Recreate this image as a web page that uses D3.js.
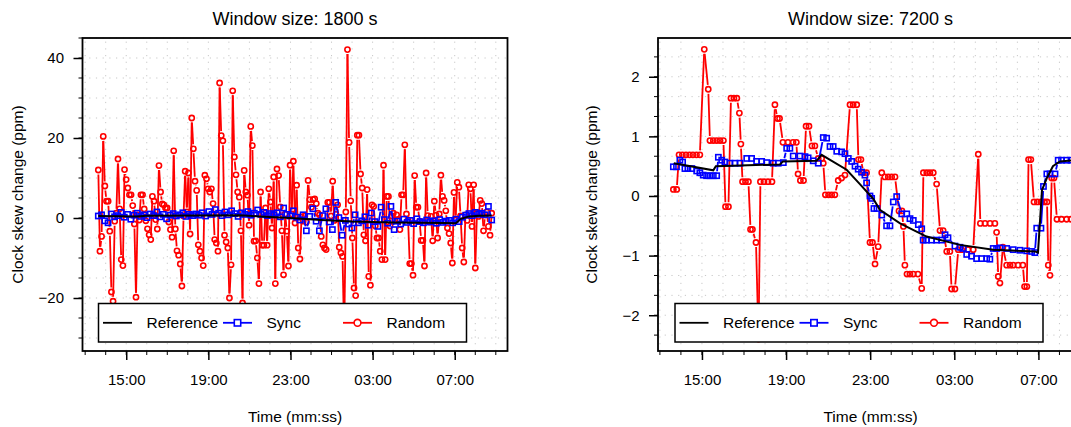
<!DOCTYPE html>
<html>
<head>
<meta charset="utf-8">
<script src="https://cdn.jsdelivr.net/npm/d3@7"></script>
<style>
  body { margin: 0; background: #fff; }
  svg { display: block; font-family: "Liberation Sans", Arial, sans-serif; }
</style>
</head>
<body>
<div id="chart"></div>
<script>
// ---- shared labels ----
const xTickHours = [15, 19, 23, 27, 31];
const xTickLabels = ["15:00", "19:00", "23:00", "03:00", "07:00"];
const legendLabels = ["Reference", "Sync", "Random"];
const titles = ["Window size: 1800 s", "Window size: 7200 s"];
const xTitle = "Time (mm:ss)";
const yTitle = "Clock skew change (ppm)";

// ---- panel 1 (1800 s) : time in hours since midnight of day 1 ----
const leftStart = 13.64, leftEnd = 32.8;
const leftYTicks = [-20, 0, 20, 40];
const leftRefTimes = [13.64, 15.5, 16.0, 18.8, 20.5, 21.5, 23.0, 24.5, 26.0, 28.0, 30.5, 31.05, 31.3, 31.7, 32.2, 32.8];
const leftRefValues = [0.5, 0.4, 0.55, 0.6, 0.7, 0.4, 0.0, -0.5, -0.9, -1.15, -1.25, -1.3, -0.2, 0.4, 0.55, 0.6];
const leftSyncValues = [
  0.5, 0.8, -0.7, -1.2, 1.0, 0.3, 0.6, 1.4, 0.2, 0.9, -0.3, 0.7, 1.2, 0.4, 0.8, 0.1, 1.0, 0.6, 1.5, 0.3, 0.9, -0.2, 0.7, 1.1, 0.5, 0.8, 1.3, 0.4, 0.9, 0.6,
  1.0, 0.7, 1.3, 0.5, 1.6, 0.9, 2.1, 1.2, 0.6, 1.5, 0.8, 1.8, 1.1, 0.4, 1.3, 0.9, 1.6, 0.7, 1.2, 2.0, 0.9, 1.4, 0.6, 1.1, 0.8, 1.3, 0.3, 2.5, 0.9, 0.5,
  1.8, 0.2, -0.5, 0.8, -3.2, 0.4, 2.3, -0.8, -3.2, 0.6, 2.3, -1.0, -2.9, 3.9, 0.1, -4.3, -0.6, -1.5, -2.5, 0.8, -1.2, -0.7, 0.3, -1.8, 1.25, -0.9, -2.1, 2.7, -0.4, -1.3,
  2.9, -2.9, -0.8, -1.5, -0.3, -1.1, -0.6, -1.4, -0.2, -0.9, -1.2, -0.5, -1.0, -0.7, -1.3, -0.4, -1.1, -0.8, -0.6, -1.2, -0.3, -0.9, 0.2, 0.7, 1.1, 0.6, 1.4, 0.9, 1.2, 0.8, 2.9, -0.5
];
const leftRandomValues = [
  12, -8.3, -4.6, 20.4, 8, 4.2, 4.2, -3.3, -18.5, -20.8, -0.8, 1.2, 14.75, 2.3, -10.4, -11.9, 12.1, 9.6, 7.5, 5.8,
  5.8, 3.1, -1.5, -19.8, 0.8, -0.5, 5.8, 5.8, 2.25, -0.7, -2.7, -4.2, -5.4, 5.4, 4.2, -0.4, -2.75, 13.1, 6.5, 3.5,
  3.3, 2.5, 2.5, -1, -2.9, -4.8, 16.8, -2.75, -8.2, -9.3, -11.5, -17, 0.5, 11.7, 1.5,
  11.25, -4, 25, 17.3, 9.2, 6.9, -6.7, -8.3, -10, -11.9, 10.7, 9.8, 7.3, 6.5, 7.3, 3.6, -5.4, -6.25, -8.3, 33.75,
  20.6, 19.3, -4.3, -6, -7.5, -20, -11.7, 31.8, 15.25, 10.8, 6.5, 5.2, -3.2, -21.25, 11.9, 6.5, 5.7, -1.8, 22.9, 18.1,
  -5.8, -5.7, -10, -16.4, 6.5, -6.8, -6.8, 2.5, -6.8, 7.3, 4, -2.5, 10.25, -16.4, 12.25, 10.6, 2.75, -3.2, -14.2, 1,
  -3.3, -12, 13.2, 1, 14.2, -1.25, 8.2, -7.5, -10.25, 0.3, -0.8, 0.5, -1, 9.4, 4.6, 2.7, 4.6, 4.8, 3.6, 1.2,
  0.8, -4.6, -6.7, -7.5, -7.9, 3.9, 3.9, 0.5, 9.2, -0.6, 0.9, 3.3, -7.3, -8.75, -9.6, -30, 1.5, 42.1, 18.9, 4.3,
  -5, -17.5, -19.4, 20.7, 20.7, 11, 7.5, -4.2, -5.7, 7.1, -14.6, -16.8, 3.3, 2.9, -2, -5, -5, -8.3, -10.4, 13.2,
  -10.4, 5.4, 5.4, -2, 0.5, 1.2, -0.6, 0.8, -0.4, -2.9, 5.8, 5.8, 18.3, 1, -0.5, -11.4, -11.4, -14.3, 10.6, 2.7,
  2.7, -0.8, -5.6, -5.6, -12, 11.25, 0.6, -1, 0.4, -5.7, 4.2, 0.7, -5, 1, 10.7, 5.4, 4.4, 1.8, -2.5, -3.9,
  -6.25, -11.25, 6.4, -0.5, 8.9, 7.7, 0.5, -7.5, -11, 0.8, -0.6, 8.3, 7.3, -2.1, 8.3, -12.5, 1.2, 0.4, 4.4, 3.6,
  -3.2, 0.8, 1.5, -2.1, -4.3, 1.2
];

// ---- panel 2 (7200 s) ----
const rightYTicks = [-2, -1, 0, 1, 2];
const rightRefTimes = [13.66, 15.54, 15.66, 18.71, 18.85, 20.45, 20.69, 21.88, 22.51, 23.15, 23.46, 24.42, 25.68, 27.27, 28.85, 30.83, 30.98, 31.17, 31.4, 31.69, 32.02, 32.64];
const rightRefValues = [0.55, 0.43, 0.5, 0.53, 0.58, 0.59, 0.69, 0.44, 0.2, -0.05, -0.23, -0.46, -0.68, -0.82, -0.9, -0.93, -0.95, 0.1, 0.3, 0.5, 0.58, 0.6];
const rightSyncTimes = [
  13.64, 13.79, 13.95, 14.08, 14.19, 14.33, 14.52, 14.75, 14.90, 15.06, 15.22, 15.38, 15.54, 15.70, 15.78, 15.94, 16.09, 16.33, 16.57, 16.81,
  17.13, 17.36, 17.60, 17.84, 18.08, 18.39, 18.63, 18.87, 19.03, 19.18, 19.34, 19.66, 19.90, 20.05, 20.29, 20.53, 20.77, 20.93, 21.09, 21.24,
  21.41, 21.64, 21.80, 21.96, 22.12, 22.28, 22.43, 22.59, 22.75, 22.83, 22.99, 23.07, 23.18, 23.32, 23.55, 23.78, 23.94, 24.10, 24.26, 24.50,
  24.74, 24.89, 25.05, 25.29, 25.45, 25.52, 25.68, 25.92, 26.16, 26.40, 26.56, 26.70, 27.03, 27.27, 27.43, 27.59, 27.82, 28.06, 28.30, 28.54,
  28.69, 28.85, 29.01, 29.17, 29.49, 29.80, 30.12, 30.44, 30.68, 30.83, 30.92, 31.12, 31.24, 31.40, 31.55, 31.79, 31.94, 32.10, 32.34, 32.55
];
const rightSyncValues = [
  0.49, 0.49, 0.6, 0.57, 0.46, 0.46, 0.46, 0.42, 0.39, 0.35, 0.34, 0.34, 0.34, 0.34, 0.65, 0.6, 0.57, 0.55, 0.55, 0.55,
  0.63, 0.63, 0.58, 0.58, 0.56, 0.55, 0.55, 0.56, 0.8, 0.8, 0.67, 0.67, 0.66, 0.64, 0.59, 0.55, 0.98, 0.97, 0.83, 0.83,
  0.75, 0.74, 0.71, 0.63, 0.58, 0.5, 0.45, 0.4, 0.35, 0.22, 0, -0.04, -0.21, -0.21, -0.32, -0.5, -0.5, -0.1, -0.01, -0.3,
  -0.3, -0.38, -0.41, -0.48, -0.55, -0.74, -0.74, -0.74, -0.74, -0.74, -0.65, -0.7, -0.84, -0.86, -0.88, -0.98, -1.01, -1.05, -1.05, -1.05,
  -1.06, -0.88, -0.88, -0.87, -0.88, -0.9, -0.91, -0.92, -0.93, -0.95, -0.54, -0.54, 0.16, 0.37, 0.37, 0.37, 0.6, 0.6, 0.6, 0.6
];
const rightRandomTimes = [
  13.64, 13.80, 13.91, 14.07, 14.24, 14.41, 14.57, 14.74, 14.90, 15.11, 15.30, 15.38, 15.54, 15.70, 15.86, 16.02, 16.12, 16.26, 16.38, 16.52,
  16.66, 16.78, 16.85, 16.93, 17.07, 17.21, 17.31, 17.40, 17.57, 17.69, 17.78, 17.95, 18.14, 18.33, 18.47, 18.59, 18.69, 18.85, 19.09, 19.33,
  19.49, 19.57, 19.68, 19.83, 19.95, 20.09, 20.23, 20.37, 20.53, 20.69, 20.77, 20.87, 21.02, 21.17, 21.32, 21.48, 21.64, 21.80, 22.04, 22.19,
  22.36, 22.44, 22.56, 22.68, 22.83, 22.99, 23.11, 23.23, 23.38, 23.55, 23.70, 23.86, 24.02, 24.18, 24.37, 24.51, 24.58, 24.65, 24.75, 24.89,
  25.05, 25.27, 25.45, 25.53, 25.69, 25.84, 26.00, 26.16, 26.32, 26.47, 26.64, 26.79, 26.87, 27.03, 27.19, 27.35, 27.65, 27.90, 28.14, 28.24,
  28.46, 28.70, 28.93, 29.01, 29.09, 29.17, 29.31, 29.49, 29.65, 29.80, 30.03, 30.26, 30.34, 30.45, 30.53, 30.64, 30.79, 30.95, 31.12, 31.29,
  31.41, 31.47, 31.55, 31.63, 31.74, 31.88, 32.10, 32.34, 32.55
];
const rightRandomValues = [
  0.11, 0.11, 0.69, 0.69, 0.69, 0.69, 0.69, 0.69, 0.69, 2.46, 1.79, 0.93, 0.93, 0.93, 0.93, 0.93, -0.18, -0.18, 1.64, 1.64,
  1.64, 1.39, 0.87, 0.24, 0.24, 0.24, -0.56, -0.56, -0.78, -2.4, 0.24, 0.24, 0.24, 0.24, 1.53, 1.3, 1.3, 0.9, 0.9, 0.9,
  0.9, 0.37, 0.26, 0.26, 1.17, 1.17, 0.84, 0.84, 0.63, 0.63, 0.55, 0.02, 0.02, 0.02, 0.02, 0.26, 0.3, 0.35, 1.53, 1.53,
  1.53, 0.61, 0.61, 0.39, 0.39, -0.78, -0.78, -1.14, -0.85, 0.39, 0.32, 0.32, 0.32, 0.32, -0.25, -0.25, -0.51, -1.16, -1.31, -1.31,
  -1.31, -1.31, -1.55, 0.39, 0.39, 0.39, 0.39, 0.2, -0.58, -0.58, -0.93, -0.93, -1.56, -1.56, -0.9, -0.9, -0.9, -0.9, 0.7, -0.46,
  -0.46, -0.46, -0.46, -0.61, -1.35, -1.46, -0.86, -1.16, -1.16, -1.16, -1.16, -1.16, -1.52, -1.52, 0.61, 0.61, -0.1, -0.1, -0.1, -0.1,
  -0.1, -1.16, -1.33, 0.3, 0.3, -0.39, -0.39, -0.39, -0.39
];

const W = 1071, H = 427;
const svg = d3.select("#chart").append("svg")
  .attr("width", W)
  .attr("height", H);

const evenTimes = (vals, t0, t1) => vals.map((v, i) => t0 + i * (t1 - t0) / (vals.length - 1));

const panels = [
  {
    id: "p1", title: titles[0],
    box: { x0: 82.5, x1: 507.5, y0: 38, y1: 351 },
    xDomain: [12.87, 33.57], yDomain: [-33.25, 45],
    yTicks: leftYTicks, yGridStep: 5, yTitleX: 22.5,
    legendX: 98.5,
    ref: d3.zip(leftRefTimes, leftRefValues),
    sync: d3.zip(evenTimes(leftSyncValues, leftStart, leftEnd), leftSyncValues),
    random: d3.zip(evenTimes(leftRandomValues, leftStart, leftEnd), leftRandomValues)
  },
  {
    id: "p2", title: titles[1],
    box: { x0: 658, x1: 1083, y0: 38, y1: 351 },
    xDomain: [12.91, 33.12], yDomain: [-2.6, 2.65],
    yTicks: rightYTicks, yGridStep: 1 / 3, yTitleX: 597,
    legendX: 675,
    ref: d3.zip(rightRefTimes, rightRefValues),
    sync: d3.zip(rightSyncTimes, rightSyncValues),
    random: d3.zip(rightRandomTimes, rightRandomValues)
  }
];

// R type="b": segments between points, leaving a gap round each point
function gappedSegments(pts, gap) {
  const segs = [];
  for (let i = 1; i < pts.length; i++) {
    const [x1, y1] = pts[i - 1], [x2, y2] = pts[i];
    const dx = x2 - x1, dy = y2 - y1, d = Math.hypot(dx, dy);
    if (d <= 2 * gap) continue;
    const ux = dx / d, uy = dy / d;
    segs.push([x1 + ux * gap, y1 + uy * gap, x2 - ux * gap, y2 - uy * gap]);
  }
  return segs;
}

panels.forEach(p => {
  const b = p.box;
  const x = d3.scaleLinear().domain(p.xDomain).range([b.x0, b.x1]);
  const y = d3.scaleLinear().domain(p.yDomain).range([b.y1, b.y0]);
  const cx = (b.x0 + b.x1) / 2, cy = (b.y0 + b.y1) / 2;

  svg.append("clipPath").attr("id", "clip-" + p.id)
    .append("rect")
    .attr("x", b.x0).attr("y", b.y0)
    .attr("width", b.x1 - b.x0).attr("height", b.y1 - b.y0);

  // dotted grid
  const xGrid = d3.range(13, 34, 1).filter(h => h > p.xDomain[0] && h < p.xDomain[1]);
  const yGrid = d3.range(Math.ceil(p.yDomain[0] / p.yGridStep), Math.floor(p.yDomain[1] / p.yGridStep) + 1)
    .map(k => k * p.yGridStep);
  const grid = svg.append("g")
    .attr("stroke", "#c8c8c8")
    .attr("stroke-width", 1)
    .attr("stroke-dasharray", "1.2,5.5");
  grid.selectAll(".gx").data(xGrid).enter().append("line")
    .attr("x1", d => x(d)).attr("x2", d => x(d))
    .attr("y1", b.y1).attr("y2", b.y0);
  grid.selectAll(".gy").data(yGrid).enter().append("line")
    .attr("x1", b.x0).attr("x2", b.x1)
    .attr("y1", d => y(d)).attr("y2", d => y(d));

  const plot = svg.append("g").attr("clip-path", `url(#clip-${p.id})`);

  // Random series (red, circles)
  const rPts = p.random.map(d => [x(d[0]), y(d[1])]);
  plot.append("g").selectAll("line").data(gappedSegments(rPts, 4.5)).enter().append("line")
    .attr("x1", d => d[0]).attr("y1", d => d[1]).attr("x2", d => d[2]).attr("y2", d => d[3])
    .attr("stroke", "#ff0000").attr("stroke-width", 1.8);
  plot.append("g").selectAll("circle").data(rPts).enter().append("circle")
    .attr("cx", d => d[0]).attr("cy", d => d[1]).attr("r", 2.6)
    .attr("fill", "none").attr("stroke", "#ff0000").attr("stroke-width", 1.6);

  // Sync series (blue, squares)
  const sPts = p.sync.map(d => [x(d[0]), y(d[1])]);
  plot.append("g").selectAll("line").data(gappedSegments(sPts, 4.5)).enter().append("line")
    .attr("x1", d => d[0]).attr("y1", d => d[1]).attr("x2", d => d[2]).attr("y2", d => d[3])
    .attr("stroke", "#0000ff").attr("stroke-width", 1.8);
  plot.append("g").selectAll("rect").data(sPts).enter().append("rect")
    .attr("x", d => d[0] - 2.6).attr("y", d => d[1] - 2.6)
    .attr("width", 5.2).attr("height", 5.2)
    .attr("fill", "none").attr("stroke", "#0000ff").attr("stroke-width", 1.6);

  // Reference (black line)
  plot.append("path")
    .datum(p.ref)
    .attr("fill", "none").attr("stroke", "#000").attr("stroke-width", 2)
    .attr("d", d3.line().x(d => x(d[0])).y(d => y(d[1])));

  // axes
  const xAxis = svg.append("g")
    .attr("transform", `translate(0,${b.y1})`)
    .call(d3.axisBottom(x).tickValues(xTickHours)
      .tickFormat((d, i) => xTickLabels[i]).tickSize(9).tickPadding(14.5));
  const yAxis = svg.append("g")
    .attr("transform", `translate(${b.x0},0)`)
    .call(d3.axisLeft(y).tickValues(p.yTicks).tickFormat(d3.format("d"))
      .tickSize(9).tickPadding(9.5));
  [xAxis, yAxis].forEach(a => {
    a.select(".domain").remove();
    a.selectAll("line").attr("stroke", "#000").attr("stroke-width", 1.5);
    a.selectAll("text").attr("fill", "#000").style("font-size", "15px")
      .style("font-family", '"Liberation Sans", Arial, sans-serif');
  });
  // minor ticks
  svg.append("g")
    .call(g => g.selectAll("line.mx").data(xGrid).enter().append("line")
      .attr("x1", d => x(d)).attr("x2", d => x(d)).attr("y1", b.y1).attr("y2", b.y1 + 4))
    .call(g => g.selectAll("line.my").data(yGrid).enter().append("line")
      .attr("x1", b.x0 - 4).attr("x2", b.x0).attr("y1", d => y(d)).attr("y2", d => y(d)))
    .attr("stroke", "#000").attr("stroke-width", 1);

  // box
  svg.append("rect")
    .attr("x", b.x0).attr("y", b.y0)
    .attr("width", b.x1 - b.x0).attr("height", b.y1 - b.y0)
    .attr("fill", "none").attr("stroke", "#000").attr("stroke-width", 1.8);

  // titles
  svg.append("text")
    .attr("x", cx).attr("y", 24.5)
    .attr("text-anchor", "middle")
    .style("font-size", "18px")
    .text(p.title);
  svg.append("text")
    .attr("x", cx).attr("y", 422)
    .attr("text-anchor", "middle")
    .style("font-size", "15.5px")
    .text(xTitle);
  svg.append("text")
    .attr("transform", `translate(${p.yTitleX},${cy}) rotate(-90)`)
    .attr("text-anchor", "middle")
    .style("font-size", "15.5px")
    .text(yTitle);

  // legend
  const lg = svg.append("g").attr("transform", `translate(${p.legendX},303.5)`);
  lg.append("rect")
    .attr("width", 368).attr("height", 38.5)
    .attr("fill", "#fff").attr("stroke", "#000").attr("stroke-width", 1.5);
  const items = [
    { label: legendLabels[0], color: "#000", mark: null },
    { label: legendLabels[1], color: "#0000ff", mark: "square" },
    { label: legendLabels[2], color: "#ff0000", mark: "circle" }
  ];
  const it = lg.selectAll(".item").data(items).enter().append("g")
    .attr("transform", (d, i) => `translate(${4.5 + i * 120},19.3)`);
  it.append("line")
    .attr("x1", 0).attr("x2", 29).attr("y1", 0).attr("y2", 0)
    .attr("stroke", d => d.color).attr("stroke-width", 1.8);
  it.filter(d => d.mark === "square").append("rect")
    .attr("x", 14.5 - 3.2).attr("y", -3.2).attr("width", 6.4).attr("height", 6.4)
    .attr("fill", "#fff").attr("stroke", "#0000ff").attr("stroke-width", 1.6);
  it.filter(d => d.mark === "circle").append("circle")
    .attr("cx", 14.5).attr("cy", 0).attr("r", 3.4)
    .attr("fill", "#fff").attr("stroke", "#ff0000").attr("stroke-width", 1.6);
  it.append("text")
    .attr("x", 43.5).attr("y", 5.5)
    .style("font-size", "15.5px")
    .text(d => d.label);
});
</script>
</body>
</html>
